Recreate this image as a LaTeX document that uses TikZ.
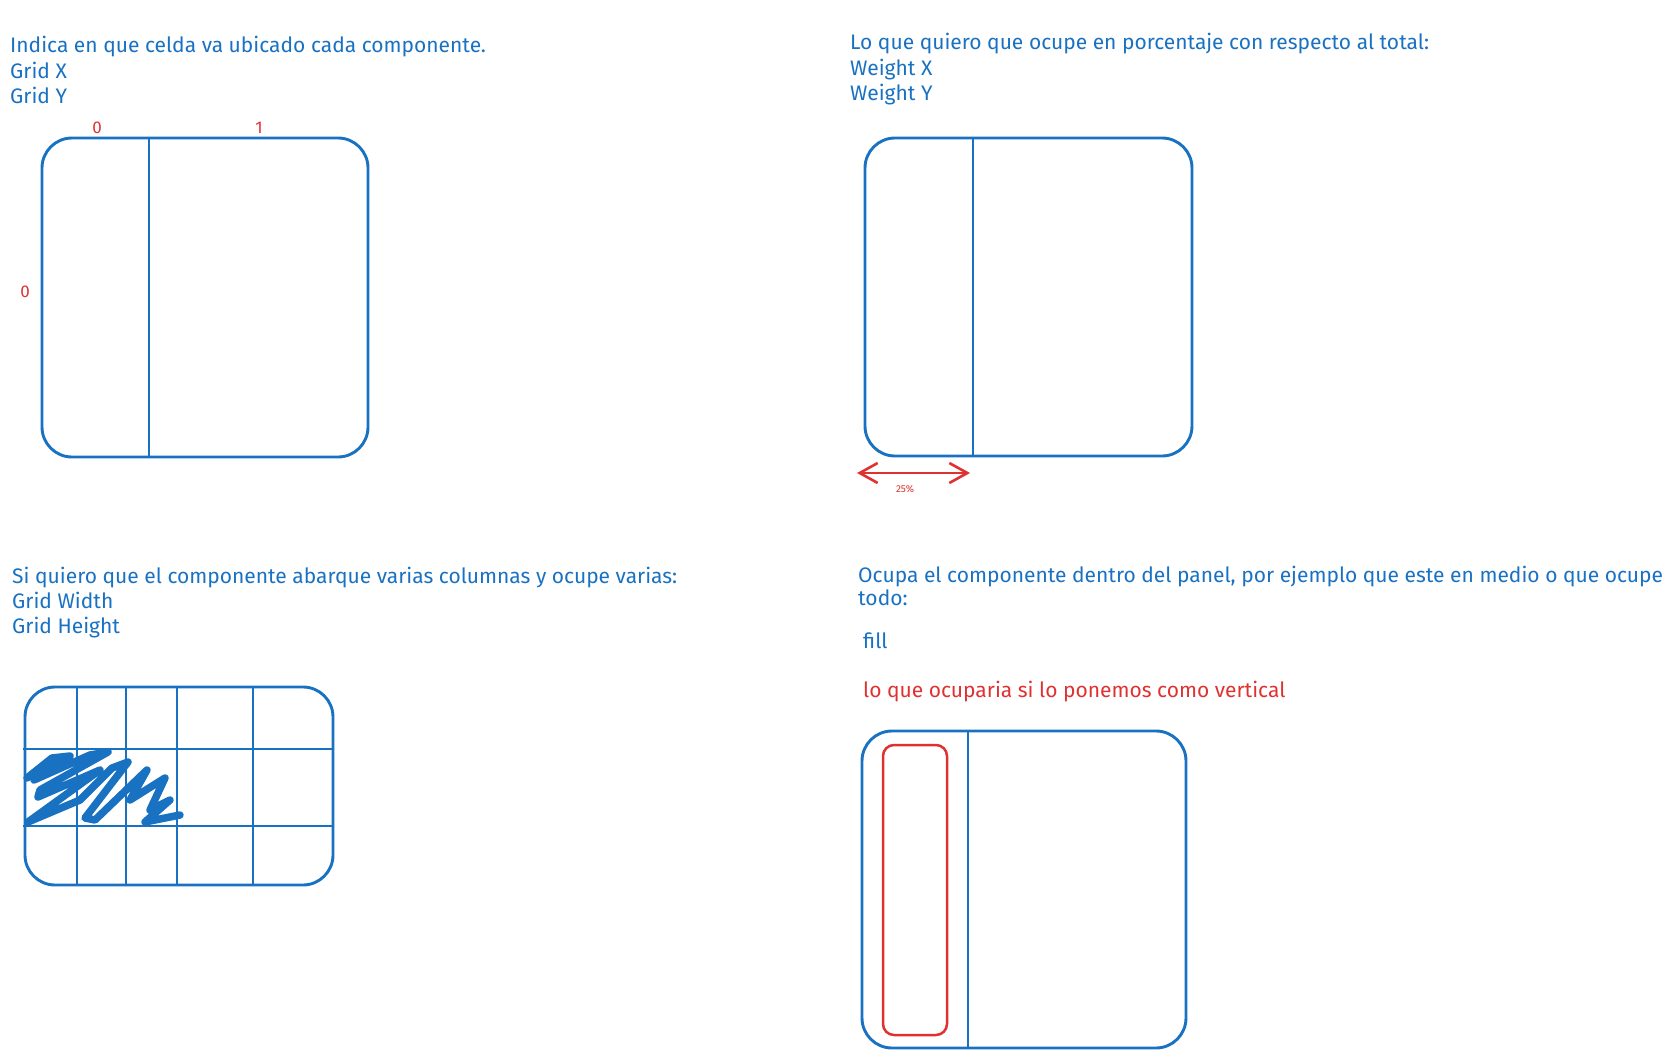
\documentclass[tikz,border=0pt]{standalone}
\usepackage{fontspec}
\setmainfont{Fira Sans}
\usetikzlibrary{arrows.meta}
\definecolor{sketchblue}{HTML}{1971C2}
\definecolor{sketchred}{HTML}{E03131}

\begin{document}
\begin{tikzpicture}[x=1pt,y=-1pt,
    panel/.style={draw=sketchblue,line width=2.9pt,rounded corners=30pt},
    divider/.style={draw=sketchblue,line width=2.9pt},
    note/.style={anchor=base west,inner sep=0pt,text=sketchblue,font=\fontsize{21}{25}\selectfont},
    rednote/.style={note,text=sketchred},
    cellnum/.style={anchor=base,inner sep=0pt,text=sketchred,font=\fontsize{17}{17}\selectfont}]
      \useasboundingbox (0,0) rectangle (1668,1057);

      % gridx / gridy
      \node[note] (gridtitle) at (10,53) {Indica en que celda va ubicado cada componente.};
      \node[note] (gridx) at (10,78) {Grid X};
      \node[note] (gridy) at (10,103) {Grid Y};
      \path[panel] (42,138) rectangle (368,457);
      \path[divider] (149,138) -- (149,457);
      \node[cellnum] (colzero) at (97,133) {0};
      \node[cellnum] (colone) at (259,133) {1};
      \node[cellnum] (rowzero) at (25,297) {0};

      % weightx / weighty
      \node[note] (weighttitle) at (850,50) {Lo que quiero que ocupe en porcentaje con respecto al total:};
      \node[note] (weightx) at (850,75) {Weight X};
      \node[note] (weighty) at (850,100) {Weight Y};
      \path[panel] (865,138) rectangle (1192,456);
      \path[divider] (973,138) -- (973,456);
      \coordinate (wleft) at (857,473);
      \coordinate (wright) at (970,473);
      \draw[draw=sketchred,line width=2.6pt,{Straight Barb[length=18pt,width=20pt]}-{Straight Barb[length=18pt,width=20pt]}] (wleft) -- (wright);
      \node[cellnum,font=\fontsize{10}{10}\selectfont] (wpct) at (905,492) {25\%};

      % gridwidth / gridheight
      \node[note] (spantitle) at (12,583) {Si quiero que el componente abarque varias columnas y ocupe varias:};
      \node[note] (spanw) at (12,608) {Grid Width};
      \node[note] (spanh) at (12,633) {Grid Height};
      \path[panel] (25,687) rectangle (333,885);
      \foreach \gx in {77,126,177,253}
        \path[divider] (\gx,687) -- (\gx,885);
      \foreach \gy in {749,826}
        \path[divider] (23,\gy) -- (334,\gy);
      \path[draw=sketchblue,line width=7.5pt,line cap=round,line join=round]
        (27,778) -- (52,758) -- (70,756) -- (45,772) -- (34,780) -- (90,755) -- (108,752)
        -- (40,790) -- (38,797) -- (100,770) -- (28,822) -- (80,800) -- (112,768) -- (128,762)
        -- (85,818) -- (95,820) -- (147,770) -- (130,800) -- (165,778) -- (150,810)
        -- (170,800) -- (145,822) -- (180,815);

      % fill
      \node[note] (filltitle) at (858,582) {Ocupa el componente dentro del panel, por ejemplo que este en medio o que ocupe};
      \node[note] (filltodo) at (858,605) {todo:};
      \node[note] (fillkey) at (863,648) {fill};
      \node[rednote] (fillvert) at (863,697) {lo que ocuparia si lo ponemos como vertical};
      \path[panel] (862,731) rectangle (1186,1048);
      \path[divider] (968,731) -- (968,1048);
      \path[draw=sketchred,line width=2.5pt,rounded corners=11pt] (883,745) rectangle (947,1035);
\end{tikzpicture}
\end{document}
